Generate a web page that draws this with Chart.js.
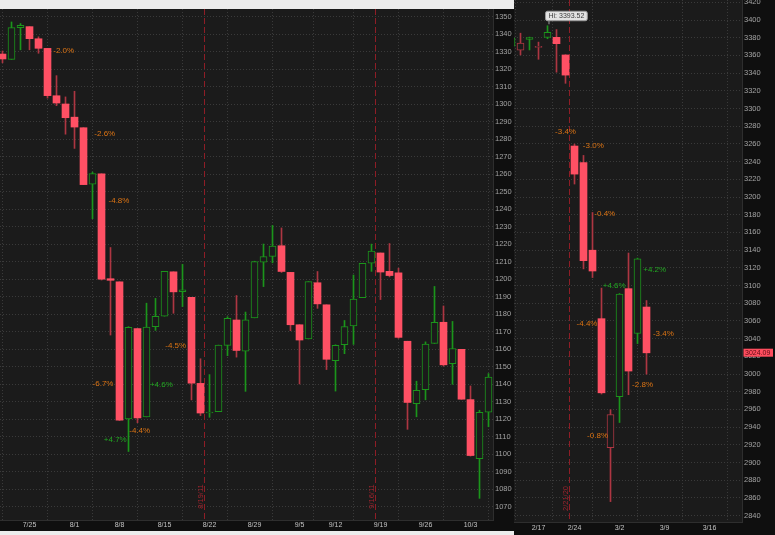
<!DOCTYPE html>
<html>
<head>
<meta charset="utf-8">
<script src="https://cdn.jsdelivr.net/npm/chart.js@4.4.1/dist/chart.umd.min.js"></script>
<style>
  html, body { margin: 0; padding: 0; background: #ececec; }
  body { width: 775px; height: 535px; position: relative; overflow: hidden; }
  canvas { position: absolute; background: #0f0f0f; }
  #left  { left: 0; top: 9px; }
  #right { left: 514px; top: 0; }
</style>
</head>
<body>
<canvas id="left" width="514" height="522"></canvas>
<canvas id="right" width="261" height="535"></canvas>
<script>
/* ---- left panel: daily bars Jul-Oct 2011 ---- */
const leftDates = ['7/20','7/21','7/22','7/25','7/26','7/27','7/28','7/29','8/1','8/2','8/3','8/4','8/5',
  '8/8','8/9','8/10','8/11','8/12','8/15','8/16','8/17','8/18','8/19','8/22','8/23','8/24','8/25','8/26',
  '8/29','8/30','8/31','9/1','9/2','9/6','9/7','9/8','9/9','9/12','9/13','9/14','9/15','9/16',
  '9/19','9/20','9/21','9/22','9/23','9/26','9/27','9/28','9/29','9/30','10/3','10/4','10/5'];
const leftOpen  = [1328.66,1325.65,1343.80,1344.32,1337.39,1331.91,1304.84,1300.12,1292.59,1286.56,1254.25,1260.23,1200.28,
  1198.48,1120.23,1171.77,1121.30,1172.87,1178.86,1204.22,1192.89,1189.62,1140.47,1123.55,1124.36,1162.16,1176.69,1158.85,
  1177.91,1209.76,1213.00,1219.12,1203.90,1173.97,1165.85,1197.98,1185.37,1153.50,1162.59,1173.32,1189.44,1209.21,
  1214.99,1204.50,1203.63,1164.55,1128.82,1136.91,1163.32,1175.39,1151.74,1159.93,1131.21,1097.42,1124.03];
const leftHigh  = [1330.43,1347.00,1346.10,1344.32,1338.51,1331.91,1316.32,1304.16,1307.38,1286.56,1261.20,1260.23,1218.11,
  1198.48,1172.88,1171.77,1186.29,1189.04,1204.49,1204.22,1208.47,1189.62,1154.54,1145.49,1162.35,1178.56,1190.68,1181.23,
  1210.28,1220.10,1230.71,1229.29,1203.90,1173.97,1198.62,1204.40,1185.37,1162.52,1176.41,1202.38,1209.11,1220.06,
  1214.99,1220.39,1206.30,1164.55,1141.72,1164.19,1195.86,1184.71,1175.87,1159.93,1138.99,1125.12,1146.07];
const leftLow   = [1323.65,1325.65,1331.08,1331.09,1329.10,1303.49,1299.16,1282.86,1274.73,1254.03,1234.56,1199.54,1168.09,
  1119.28,1101.54,1118.01,1121.30,1170.74,1178.86,1180.53,1184.36,1131.03,1122.05,1121.09,1124.36,1156.30,1155.47,1135.91,
  1177.91,1195.77,1209.35,1203.85,1170.56,1140.13,1165.85,1183.34,1148.37,1136.07,1157.44,1162.73,1189.44,1204.46,
  1188.36,1201.29,1166.21,1114.22,1121.36,1131.07,1163.32,1150.40,1139.93,1131.34,1098.92,1074.77,1115.68];
const leftClose = [1325.84,1343.80,1345.02,1337.43,1331.94,1304.89,1300.67,1292.28,1286.94,1254.05,1260.34,1200.07,1199.38,
  1119.46,1172.53,1120.76,1172.64,1178.81,1204.49,1192.76,1193.89,1140.65,1123.53,1123.82,1162.35,1177.60,1159.27,1176.80,
  1210.08,1212.92,1218.89,1204.42,1173.97,1165.24,1198.62,1185.90,1154.23,1162.27,1172.87,1188.68,1209.11,1216.01,
  1204.09,1202.09,1166.76,1129.56,1136.43,1162.95,1175.38,1151.06,1160.40,1131.42,1099.23,1123.95,1144.03];
const leftPrevClose = 1326.73;
const leftWeekLabels = ['7/25','8/1','8/8','8/15','8/22','8/29','9/5','9/12','9/19','9/26','10/3'];
const leftPriceTicks = [1070,1080,1090,1100,1110,1120,1130,1140,1150,1160,1170,1180,1190,1200,1210,
  1220,1230,1240,1250,1260,1270,1280,1290,1300,1310,1320,1330,1340,1350];
const leftMarkerDates  = ['8/19','9/16'];
const leftMarkerLabels = ['8/19/11','9/16/11'];
const leftNoteText = ['-2.0%','-2.6%','-4.8%','-6.7%','+4.7%','-4.4%','+4.6%','-4.5%'];
const leftNoteX    = [6.8, 11.36, 12.94, 11.17, 12.53, 15.24, 17.65, 19.24];
const leftNoteY    = [1330.4, 1283.0, 1244.7, 1140.1, 1108.1, 1113.3, 1139.5, 1161.8];

/* ---- right panel: daily bars Feb-Mar 2020 ---- */
const rightDates = ['2/12','2/13','2/14','2/18','2/19','2/20','2/21','2/24','2/25','2/26','2/27','2/28',
  '3/2','3/3','3/4','3/5','3/6','3/9','3/10','3/11','3/12','3/13','3/16','3/17','3/18','3/19','3/20'];
const rightOpen  = [3370.50,3365.90,3378.08,3369.04,3380.39,3380.45,3360.50,3257.61,3238.94,3139.90,3062.54,2916.90,2974.28,3096.46,3045.75,3075.70];
const rightHigh  = [3381.47,3385.09,3380.69,3375.01,3393.52,3389.15,3360.76,3259.81,3246.99,3182.51,3097.07,2959.72,3090.96,3136.72,3130.97,3083.04];
const rightLow   = [3369.72,3360.52,3366.15,3355.61,3378.83,3341.02,3328.45,3214.65,3118.77,3108.99,2977.39,2855.84,2945.19,2976.63,3034.38,2999.83];
const rightClose = [3379.45,3373.94,3380.16,3370.29,3386.15,3373.23,3337.75,3225.89,3128.21,3116.39,2978.76,2954.22,3090.23,3003.37,3130.12,3023.94];
const rightPrevClose = 3357.75;
const rightWeekLabels = ['2/17','2/24','3/2','3/9','3/16'];
const rightPriceTicks = [2840,2860,2880,2900,2920,2940,2960,2980,3000,3020,3040,3060,3080,3100,3120,
  3140,3160,3180,3200,3220,3240,3260,3280,3300,3320,3340,3360,3380,3400,3420];
const rightMarkerDates  = ['2/21'];
const rightMarkerLabels = ['2/21/20'];
const rightNoteText = ['-3.4%','-3.0%','-0.4%','-4.4%','+4.6%','+4.2%','-3.4%','-2.8%','-0.8%'];
const rightNoteX    = [6.0, 9.09, 10.36, 8.39, 11.41, 15.91, 16.87, 14.56, 9.56];
const rightNoteY    = [3273.8, 3257.6, 3181.1, 3056.5, 3099.8, 3117.5, 3045.2, 2988.0, 2929.9];
const rightLastPrice = 3024.09;

/* ---- look ---- */
const FONT     = '"Liberation Sans", Arial, sans-serif';
const PLOT_BG  = '#1b1b1b';
const GRID     = '#3a3a3a';
const EDGE     = '#2e2e2e';
const GREEN    = '#1b951b';
const RED      = '#ff5064';
const RED_DARK = '#ad3642';
const MARKER   = '#8e1d26';
const MARKER_TEXT = '#a0242e';
const UP_TEXT  = '#22a822';
const DN_TEXT  = '#dc7414';

const mdKey = s => { const [m, d] = s.split('/').map(Number); return m * 100 + d; };
const firstOnOrAfter = (dates, md) => dates.findIndex(d => mdKey(d) >= mdKey(md));

function makePanel(id, p) {
  const n = p.close.length;
  const bodyBg = [], bodyBorder = [], bodyWidth = [], wickColor = [];
  for (let i = 0; i < n; i++) {
    const prev   = i ? p.close[i - 1] : p.prevClose;
    const up     = p.close[i] >= prev;
    const hollow = p.close[i] >= p.open[i];
    const col    = up ? GREEN : (hollow ? RED_DARK : RED);
    bodyBg.push(hollow ? PLOT_BG : col);
    bodyBorder.push(col);
    bodyWidth.push(hollow ? 1 : 0);
    wickColor.push(up ? GREEN : RED_DARK);
  }
  const bodies = p.open.map((o, i) => ({ x: i, y: [o, p.close[i]] }));
  const wicks  = p.low.map((l, i) => ({ x: i, y: [l, p.high[i]] }));

  const tickIdx  = p.weekLabels.map(w => firstOnOrAfter(p.dates, w));
  const gridIdx  = tickIdx.map(i => i - 0.5);

  const decor = {
    id: 'decor_' + id,
    beforeDraw(chart) {
      const { ctx, chartArea: a } = chart;
      ctx.save();
      ctx.fillStyle = PLOT_BG;
      ctx.fillRect(a.left, a.top, a.right - a.left, a.bottom - a.top);
      ctx.restore();
    },
    beforeDatasetsDraw(chart) {
      const { ctx, chartArea: a, scales: { x } } = chart;
      ctx.save();
      p.markerDates.forEach((d, k) => {
        const px = Math.round(x.getPixelForValue(p.dates.indexOf(d) + 0.5)) - 0.5;
        ctx.strokeStyle = MARKER;
        ctx.lineWidth = 1;
        ctx.setLineDash([6, 3]);
        ctx.beginPath();
        ctx.moveTo(px, a.top);
        ctx.lineTo(px, a.bottom);
        ctx.stroke();
        ctx.save();
        ctx.translate(px - 4, a.bottom - 23.5);
        ctx.rotate(-Math.PI / 2);
        ctx.font = '7.5px ' + FONT;
        ctx.fillStyle = MARKER_TEXT;
        ctx.textAlign = 'center';
        ctx.textBaseline = 'middle';
        ctx.fillText(p.markerLabels[k], 0, 0);
        ctx.restore();
      });
      ctx.restore();
    },
    afterDatasetsDraw(chart) {
      const { ctx, scales: { x, y } } = chart;
      ctx.save();
      ctx.font = '8px ' + FONT;
      ctx.textAlign = 'center';
      ctx.textBaseline = 'middle';
      p.noteText.forEach((t, k) => {
        ctx.fillStyle = t[0] === '+' ? UP_TEXT : DN_TEXT;
        ctx.fillText(t, x.getPixelForValue(p.noteX[k]), y.getPixelForValue(p.noteY[k]));
      });
      ctx.restore();
    },
    afterDraw(chart) {
      const { ctx, chartArea: a, scales: { x, y } } = chart;
      ctx.save();
      ctx.font = '7px ' + FONT;
      ctx.textBaseline = 'middle';
      ctx.textAlign = 'left';
      if (p.showHi) {
        const hi = Math.max(...p.high);
        const i  = p.high.indexOf(hi);
        const cx = x.getPixelForValue(i), hy = y.getPixelForValue(hi);
        const txt = 'Hi: ' + hi.toFixed(2);
        const w = ctx.measureText(txt).width + 6;
        const bx = cx - 2.5, by = hy - 15;
        ctx.fillStyle = '#e2e2e2';
        ctx.strokeStyle = '#9a9a9a';
        ctx.beginPath();
        ctx.roundRect(bx + 0.5, by + 0.5, w, 9.5, 2);
        ctx.fill();
        ctx.stroke();
        ctx.beginPath();
        ctx.moveTo(cx + 1.5, by + 10);
        ctx.lineTo(cx + 1.5, hy - 1.5);
        ctx.stroke();
        ctx.fillStyle = '#3a3a3a';
        ctx.fillText(txt, bx + 3.5, by + 5.5);
      }
      if (p.lastPrice) {
        const ly = y.getPixelForValue(p.lastPrice);
        ctx.fillStyle = '#ff4d5e';
        ctx.fillRect(a.right + 1.5, ly - 4, chart.width - a.right - 3.5, 8);
        ctx.fillStyle = '#5c0c14';
        ctx.fillText(p.lastPrice.toFixed(2), a.right + 3, ly + 0.5);
      }
      ctx.restore();
    }
  };

  const zeroPad = s => { s.paddingTop = 0; s.paddingBottom = 0; s.paddingLeft = 0; s.paddingRight = 0; };

  return new Chart(document.getElementById(id), {
    type: 'bar',
    data: {
      datasets: [
        { data: bodies, backgroundColor: bodyBg, borderColor: bodyBorder, borderWidth: bodyWidth,
          borderSkipped: false, grouped: false, barThickness: 7, maxBarThickness: 7, minBarLength: 1,
          clip: 0, xAxisID: 'x', yAxisID: 'y' },
        { data: wicks, backgroundColor: wickColor, borderWidth: 0, grouped: false,
          barThickness: 1, maxBarThickness: 1, clip: 0, xAxisID: 'x', yAxisID: 'y' }
      ]
    },
    options: {
      responsive: false,
      animation: false,
      events: [],
      layout: { padding: 0 },
      plugins: { legend: { display: false }, tooltip: { enabled: false } },
      scales: {
        x: {
          type: 'linear', position: 'bottom', min: p.xMin, max: p.xMax, offset: false,
          afterBuildTicks: s => { s.ticks = tickIdx.map(v => ({ value: v })); },
          afterFit: s => { s.height = p.xAxisH; zeroPad(s); },
          grid: { display: false, drawTicks: false },
          border: { color: EDGE },
          ticks: { autoSkip: false, maxRotation: 0, padding: p.xPad, color: '#c2c2c2',
                   font: { family: FONT, size: 7 },
                   callback: (v, i) => p.weekLabels[i] }
        },
        xg: {
          type: 'linear', position: 'top', min: p.xMin, max: p.xMax, offset: false,
          afterBuildTicks: s => { s.ticks = gridIdx.map(v => ({ value: v })); },
          afterFit: s => { s.height = 0; zeroPad(s); },
          grid: { color: GRID, drawTicks: false },
          border: { display: false, dash: [1, 2] },
          ticks: { display: false }
        },
        y: {
          type: 'linear', position: 'right', min: p.yMin, max: p.yMax,
          afterBuildTicks: s => { s.ticks = p.priceTicks.map(v => ({ value: v })); },
          afterFit: s => { s.width = p.yAxisW; zeroPad(s); },
          grid: { color: GRID, drawTicks: false },
          border: { color: EDGE, dash: [1, 2] },
          ticks: { padding: 2, color: '#a2a2a2', font: { family: FONT, size: 7.5 },
                   callback: v => String(v) }
        }
      }
    },
    plugins: [decor]
  });
}

makePanel('left', {
  dates: leftDates, open: leftOpen, high: leftHigh, low: leftLow, close: leftClose,
  prevClose: leftPrevClose, weekLabels: leftWeekLabels, priceTicks: leftPriceTicks,
  markerDates: leftMarkerDates, markerLabels: leftMarkerLabels,
  noteText: leftNoteText, noteX: leftNoteX, noteY: leftNoteY,
  showHi: false, lastPrice: null,
  xMin: -0.278, xMax: 54.5, yMin: 1062.4, yMax: 1354.4,
  xAxisH: 11, yAxisW: 21, xPad: 1
});

makePanel('right', {
  dates: rightDates, open: rightOpen, high: rightHigh, low: rightLow, close: rightClose,
  prevClose: rightPrevClose, weekLabels: rightWeekLabels, priceTicks: rightPriceTicks,
  markerDates: rightMarkerDates, markerLabels: rightMarkerLabels,
  noteText: rightNoteText, noteX: rightNoteX, noteY: rightNoteY,
  showHi: true, lastPrice: rightLastPrice,
  xMin: 0.278, xMax: 25.61, yMin: 2832.8, yMax: 3422.6,
  xAxisH: 13, yAxisW: 33, xPad: 2
});
</script>
</body>
</html>
